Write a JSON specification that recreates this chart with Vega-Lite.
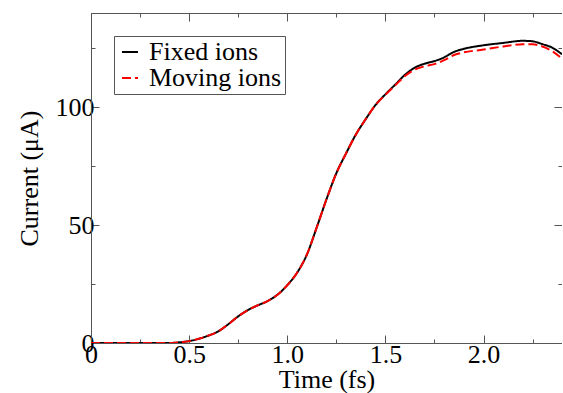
{
  "$schema": "https://vega.github.io/schema/vega-lite/v6.json",
  "width": 471,
  "height": 330,
  "autosize": {"type": "none"},
  "padding": {"left": 91, "top": 13, "right": 0, "bottom": 50},
  "background": "white",
  "config": {
    "view": {"stroke": "#555", "strokeWidth": 1},
    "font": "Liberation Serif",
    "axis": {
      "labelFont": "Liberation Serif",
      "titleFont": "Liberation Serif",
      "labelFontSize": 26,
      "titleFontSize": 26,
      "titleFontWeight": "normal",
      "labelColor": "black",
      "titleColor": "black",
      "domainColor": "#555",
      "tickColor": "#555",
      "grid": false
    }
  },
  "data": {
    "values": [
      {"t": 0, "current": 0, "series": "Fixed ions"},
      {"t": 0.25, "current": 0, "series": "Fixed ions"},
      {"t": 0.4, "current": 0, "series": "Fixed ions"},
      {"t": 0.45, "current": 0.3, "series": "Fixed ions"},
      {"t": 0.5, "current": 0.8, "series": "Fixed ions"},
      {"t": 0.55, "current": 1.8, "series": "Fixed ions"},
      {"t": 0.6, "current": 3.2, "series": "Fixed ions"},
      {"t": 0.65, "current": 5.0, "series": "Fixed ions"},
      {"t": 0.7, "current": 8.0, "series": "Fixed ions"},
      {"t": 0.75, "current": 11.3, "series": "Fixed ions"},
      {"t": 0.8, "current": 14.0, "series": "Fixed ions"},
      {"t": 0.85, "current": 16.0, "series": "Fixed ions"},
      {"t": 0.9, "current": 17.8, "series": "Fixed ions"},
      {"t": 0.95, "current": 20.5, "series": "Fixed ions"},
      {"t": 1.0, "current": 24.5, "series": "Fixed ions"},
      {"t": 1.05, "current": 29.8, "series": "Fixed ions"},
      {"t": 1.1, "current": 37.5, "series": "Fixed ions"},
      {"t": 1.15, "current": 49, "series": "Fixed ions"},
      {"t": 1.2, "current": 61, "series": "Fixed ions"},
      {"t": 1.25, "current": 72, "series": "Fixed ions"},
      {"t": 1.3, "current": 80.5, "series": "Fixed ions"},
      {"t": 1.35, "current": 88.5, "series": "Fixed ions"},
      {"t": 1.4, "current": 95, "series": "Fixed ions"},
      {"t": 1.45, "current": 101, "series": "Fixed ions"},
      {"t": 1.5, "current": 105.5, "series": "Fixed ions"},
      {"t": 1.55, "current": 109.6, "series": "Fixed ions"},
      {"t": 1.6, "current": 113.8, "series": "Fixed ions"},
      {"t": 1.65, "current": 116.8, "series": "Fixed ions"},
      {"t": 1.7, "current": 118.5, "series": "Fixed ions"},
      {"t": 1.75, "current": 119.6, "series": "Fixed ions"},
      {"t": 1.8, "current": 121.2, "series": "Fixed ions"},
      {"t": 1.85, "current": 123.5, "series": "Fixed ions"},
      {"t": 1.9, "current": 124.8, "series": "Fixed ions"},
      {"t": 2.0, "current": 126.3, "series": "Fixed ions"},
      {"t": 2.1, "current": 127.3, "series": "Fixed ions"},
      {"t": 2.2, "current": 128.2, "series": "Fixed ions"},
      {"t": 2.25, "current": 128.0, "series": "Fixed ions"},
      {"t": 2.3, "current": 126.8, "series": "Fixed ions"},
      {"t": 2.35, "current": 125.3, "series": "Fixed ions"},
      {"t": 2.4, "current": 122.5, "series": "Fixed ions"},
      {"t": 0, "current": 0, "series": "Moving ions"},
      {"t": 0.25, "current": 0, "series": "Moving ions"},
      {"t": 0.4, "current": 0, "series": "Moving ions"},
      {"t": 0.45, "current": 0.3, "series": "Moving ions"},
      {"t": 0.5, "current": 0.8, "series": "Moving ions"},
      {"t": 0.55, "current": 1.8, "series": "Moving ions"},
      {"t": 0.6, "current": 3.2, "series": "Moving ions"},
      {"t": 0.65, "current": 5.0, "series": "Moving ions"},
      {"t": 0.7, "current": 8.0, "series": "Moving ions"},
      {"t": 0.75, "current": 11.3, "series": "Moving ions"},
      {"t": 0.8, "current": 14.0, "series": "Moving ions"},
      {"t": 0.85, "current": 16.0, "series": "Moving ions"},
      {"t": 0.9, "current": 17.8, "series": "Moving ions"},
      {"t": 0.95, "current": 20.5, "series": "Moving ions"},
      {"t": 1.0, "current": 24.5, "series": "Moving ions"},
      {"t": 1.05, "current": 29.8, "series": "Moving ions"},
      {"t": 1.1, "current": 37.5, "series": "Moving ions"},
      {"t": 1.15, "current": 49, "series": "Moving ions"},
      {"t": 1.2, "current": 61, "series": "Moving ions"},
      {"t": 1.25, "current": 72, "series": "Moving ions"},
      {"t": 1.3, "current": 80.5, "series": "Moving ions"},
      {"t": 1.35, "current": 88.5, "series": "Moving ions"},
      {"t": 1.4, "current": 95, "series": "Moving ions"},
      {"t": 1.45, "current": 101, "series": "Moving ions"},
      {"t": 1.5, "current": 105.3, "series": "Moving ions"},
      {"t": 1.55, "current": 109.3, "series": "Moving ions"},
      {"t": 1.6, "current": 113.3, "series": "Moving ions"},
      {"t": 1.65, "current": 116.0, "series": "Moving ions"},
      {"t": 1.7, "current": 117.4, "series": "Moving ions"},
      {"t": 1.75, "current": 118.3, "series": "Moving ions"},
      {"t": 1.8, "current": 120.0, "series": "Moving ions"},
      {"t": 1.85, "current": 122.2, "series": "Moving ions"},
      {"t": 1.9, "current": 123.3, "series": "Moving ions"},
      {"t": 2.0, "current": 124.5, "series": "Moving ions"},
      {"t": 2.1, "current": 125.8, "series": "Moving ions"},
      {"t": 2.2, "current": 126.7, "series": "Moving ions"},
      {"t": 2.25, "current": 126.7, "series": "Moving ions"},
      {"t": 2.3, "current": 125.8, "series": "Moving ions"},
      {"t": 2.35, "current": 123.8, "series": "Moving ions"},
      {"t": 2.4, "current": 120.6, "series": "Moving ions"}
    ]
  },
  "layer": [
    {
      "mark": {"type": "line", "interpolate": "monotone", "strokeWidth": 2, "clip": true},
      "encoding": {
        "x": {
          "field": "t", "type": "quantitative",
          "scale": {"domain": [0, 2.4], "nice": false, "zero": false},
          "axis": {
            "orient": "bottom",
            "title": "Time (fs)",
            "values": [0, 0.25, 0.5, 0.75, 1.0, 1.25, 1.5, 1.75, 2.0, 2.25],
            "labelExpr": "datum.value == 0 ? '0' : (datum.value % 0.5 == 0 ? format(datum.value, '.1f') : '')",
            "tickSize": {"condition": {"test": "datum.value % 0.5 != 0", "value": -4}, "value": -8},
            "labelPadding": 6,
            "titlePadding": -5,
            "labelFlush": false,
            "labelOverlap": false
          }
        },
        "y": {
          "field": "current", "type": "quantitative",
          "scale": {"domain": [0, 140], "nice": false},
          "axis": {
            "orient": "left",
            "title": "Current (μA)",
            "values": [0, 25, 50, 75, 100, 125],
            "labelExpr": "datum.value % 50 == 0 ? datum.label : ''",
            "tickSize": {"condition": {"test": "datum.value % 50 != 0", "value": -4}, "value": -8},
            "labelPadding": 5,
            "titlePadding": 13,
            "labelFlush": false,
            "labelOverlap": false
          }
        },
        "color": {
          "field": "series", "type": "nominal",
          "scale": {"domain": ["Fixed ions", "Moving ions"], "range": ["black", "#ff0000"]},
          "legend": {
            "orient": "none",
            "legendX": 23,
            "legendY": 23,
            "title": null,
            "labelFont": "Liberation Serif",
            "labelFontSize": 26,
            "labelColor": "black",
            "symbolType": "stroke",
            "symbolSize": 256,
            "symbolStrokeWidth": 2,
            "strokeColor": "#555",
            "padding": 3,
            "rowPadding": -4,
            "labelOffset": 6,
            "fillColor": "white"
          }
        },
        "strokeDash": {
          "field": "series", "type": "nominal",
          "scale": {"domain": ["Fixed ions", "Moving ions"], "range": [[1, 0], [9, 4]]},
          "legend": null
        }
      }
    },
    {
      "mark": {"type": "line", "strokeOpacity": 0},
      "encoding": {
        "x": {
          "field": "t", "type": "quantitative",
          "axis": {
            "orient": "top",
            "title": null,
            "labels": false,
            "values": [0, 0.25, 0.5, 0.75, 1.0, 1.25, 1.5, 1.75, 2.0, 2.25],
            "tickSize": {"condition": {"test": "datum.value % 0.5 != 0", "value": -4}, "value": -8}
          }
        },
        "y": {
          "field": "current", "type": "quantitative",
          "axis": {
            "orient": "right",
            "title": null,
            "labels": false,
            "values": [0, 25, 50, 75, 100, 125],
            "tickSize": {"condition": {"test": "datum.value % 50 != 0", "value": -4}, "value": -8}
          }
        }
      }
    }
  ],
  "resolve": {"axis": {"x": "independent", "y": "independent"}}
}
